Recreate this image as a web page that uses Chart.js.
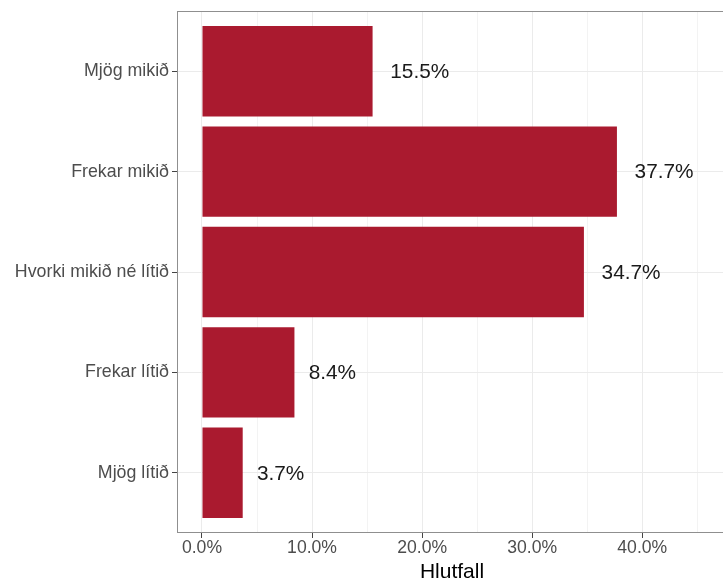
<!DOCTYPE html>
<html>
<head>
<meta charset="utf-8">
<script src="https://cdn.jsdelivr.net/npm/chart.js@4/dist/chart.umd.min.js"></script>
<style>
html, body { margin: 0; padding: 0; overflow: hidden; background: #fff; }
#wrap { width: 740px; height: 583px; }
</style>
</head>
<body>
<div id="wrap"><canvas id="shareChart" width="740" height="583"></canvas></div>
<script>
const categories = ['Mjög mikið', 'Frekar mikið', 'Hvorki mikið né lítið', 'Frekar lítið', 'Mjög lítið'];
const shares = [15.5, 37.7, 34.7, 8.4, 3.7];
const xTicks = [0, 5, 10, 15, 20, 25, 30, 35, 40, 45];

const fontFamily = '"Liberation Sans", Arial, sans-serif';
const isMajor = v => v % 10 === 0;

// value labels + panel border, like ggplot's geom_text and theme_bw border
const panelPlugin = {
    id: 'panel',
    afterDatasetsDraw(chart) {
        const ctx = chart.ctx;
        const a = chart.chartArea;
        const meta = chart.getDatasetMeta(0);
        ctx.save();
        ctx.font = '20.8px ' + fontFamily;
        ctx.fillStyle = '#1a1a1a';
        ctx.textBaseline = 'middle';
        ctx.textAlign = 'left';
        meta.data.forEach((bar, i) => {
            const txt = shares[i].toFixed(1) + '%';
            const w = ctx.measureText(txt).width;
            ctx.fillText(txt, bar.x + 0.3 * w, bar.y + 1);
        });
        ctx.strokeStyle = '#8f8f8f';
        ctx.lineWidth = 1;
        ctx.strokeRect(a.left + 0.5, a.top + 0.5, a.right - a.left - 1, a.bottom - a.top - 1);
        ctx.restore();
    }
};

const ctx = document.getElementById('shareChart').getContext('2d');
const shareChart = new Chart(ctx, {
    type: 'bar',
    data: {
        datasets: [{
            data: shares.map((v, i) => ({ x: v, y: i + 1 })),
            backgroundColor: '#AA1A2F',
            borderWidth: 0,
            barPercentage: 0.9,
            categoryPercentage: 1
        }]
    },
    options: {
        indexAxis: 'y',
        responsive: false,
        animation: false,
        layout: { padding: { left: 0, top: 11, right: 13, bottom: 0 } },
        plugins: {
            legend: { display: false },
            tooltip: { enabled: false }
        },
        scales: {
            x: {
                type: 'linear',
                min: -2.27,
                max: 47.7,
                afterBuildTicks: s => { s.ticks = xTicks.map(v => ({ value: v })); },
                afterFit: s => { s.height = 50; },
                border: { display: false },
                grid: {
                    color: c => (c.tick && isMajor(c.tick.value)) ? '#EBEBEB' : '#F3F3F3',
                    tickColor: c => (c.tick && isMajor(c.tick.value)) ? '#444444' : 'rgba(0,0,0,0)',
                    tickLength: 5
                },
                ticks: {
                    callback: v => isMajor(v) ? v.toFixed(1) + '%' : '',
                    color: '#4d4d4d',
                    font: { family: fontFamily, size: 17.6 },
                    padding: 0,
                    maxRotation: 0,
                    autoSkip: false
                },
                title: {
                    display: true,
                    text: 'Hlutfall',
                    color: '#000',
                    font: { family: fontFamily, size: 21, lineHeight: 1 },
                    padding: 0
                }
            },
            y: {
                type: 'linear',
                reverse: true,
                offset: false,
                min: 0.4,
                max: 5.6,
                afterBuildTicks: s => { s.ticks = categories.map((c, i) => ({ value: i + 1 })); },
                afterFit: s => {
                    s.width = 177;
                    s.paddingTop = 0;
                    s.paddingBottom = 0;
                },
                border: { display: false },
                grid: {
                    offset: false,
                    color: '#EBEBEB',
                    tickColor: '#444444',
                    tickLength: 5
                },
                ticks: {
                    callback: v => categories[v - 1],
                    color: '#4d4d4d',
                    font: { family: fontFamily, size: 17.8 },
                    padding: 3,
                    autoSkip: false
                }
            }
        }
    },
    plugins: [panelPlugin]
});
</script>
</body>
</html>
